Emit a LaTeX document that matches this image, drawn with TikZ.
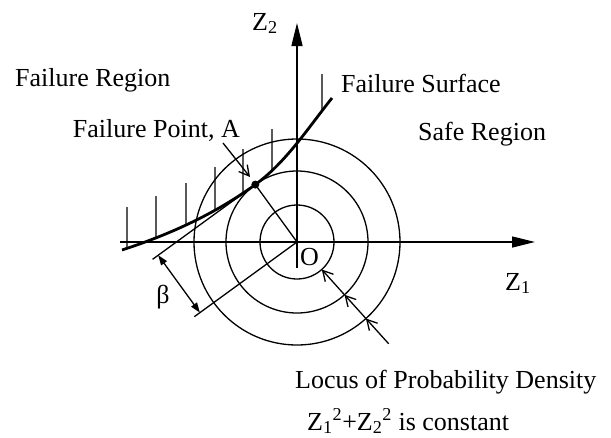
\documentclass[tikz,border=0pt]{standalone}
\usepackage{fontspec}
\setmainfont{Liberation Serif}
\usetikzlibrary{arrows.meta,intersections}
\begin{document}
\begin{tikzpicture}[x=1pt,y=-1pt,
  stroke/.style={line width=1.3pt},
  axisline/.style={line width=1.3pt,-{Triangle[length=23pt,width=11pt]}},
  openarrow/.style={line width=1.3pt,-{Straight Barb[length=10pt,width=11pt]}},
  dimline/.style={line width=1.3pt,{Triangle[length=10pt,width=7pt]}-{Triangle[length=10pt,width=7pt]}},
  lbl/.style={font=\fontsize{26}{30}\selectfont, inner sep=0pt, anchor=base west}]
\useasboundingbox (0,0) rectangle (611,437);
% key points
\coordinate (O) at (297,242);
\coordinate (A) at (255.3,184.6);
\coordinate (P0) at (122,250);
\coordinate (P2) at (332,98);
\coordinate (T) at (152.6,259.3);
\coordinate (Q) at (194.3,316.7);
\coordinate (B1) at (158.2,255.2);
\coordinate (B2) at (199.9,312.6);
\coordinate (R1) at (321.8,269.5);
\coordinate (R2) at (344.5,294.8);
\coordinate (R3) at (365.9,318.5);
\coordinate (R4) at (388.7,343.8);
\coordinate (FPs) at (223,143);
\coordinate (FPe) at (250,177);
\coordinate (Xs) at (120,242);
\coordinate (Xe) at (535,242);
\coordinate (Ys) at (297,268);
\coordinate (Ye) at (297,23);
% axes
\draw[axisline] (Xs) -- (Xe);
\draw[axisline] (Ys) -- (Ye);
% circles
\draw[stroke] (O) circle[radius=37pt];
\draw[stroke] (O) circle[radius=71pt];
\draw[stroke] (O) circle[radius=103pt];
% failure surface
\draw[line width=2.8pt, name path=curve] (P0) .. controls (169.6,234.5) and (214.9,214.0) .. (A)
   .. controls (286.0,162.3) and (308.4,127.6) .. (P2);
\foreach \x/\t [count=\i] in {127/207,156/196,186/183,215/167,243/149,272/129,322/74} {
  \path[name path=v\i] (\x,0) -- (\x,437);
  \path[name intersections={of=curve and v\i, by=h\i}];
  \draw[stroke] (h\i) -- (\x,\t);
}
% radius, tangent and parallel line
\draw[stroke] (O) -- (A);
\draw[stroke] (A) -- (T);
\draw[stroke] (O) -- (Q);
\draw[dimline] (B1) -- (B2);
% point A
\fill (A) circle[radius=4pt];
\draw[openarrow] (FPs) -- (FPe);
% locus arrows
\draw[openarrow] (R4) -- (R3);
\draw[openarrow] (R3) -- (R2);
\draw[openarrow] (R2) -- (R1);
% labels
\node[lbl] (z2) at (252,30) {Z\textsubscript{2}};
\node[lbl] (z1) at (505,290) {Z\textsubscript{1}};
\node[lbl] (o) at (300,265) {O};
\node[lbl, anchor=center] (beta) at (163,297) {β};
\node[lbl] (fr) at (15,86) {Failure Region};
\node[lbl] (fs) at (341,92) {Failure Surface};
\node[lbl] (sr) at (418,140) {Safe Region};
\node[lbl, anchor=base east] (fp) at (240,137) {Failure Point, A};
\node[lbl] (loc1) at (295,388) {Locus of Probability Density};
\node[lbl] (loc2) at (307,430) {Z\textsubscript{1}\textsuperscript{2}+Z\textsubscript{2}\textsuperscript{2} is constant};
\end{tikzpicture}
\end{document}
